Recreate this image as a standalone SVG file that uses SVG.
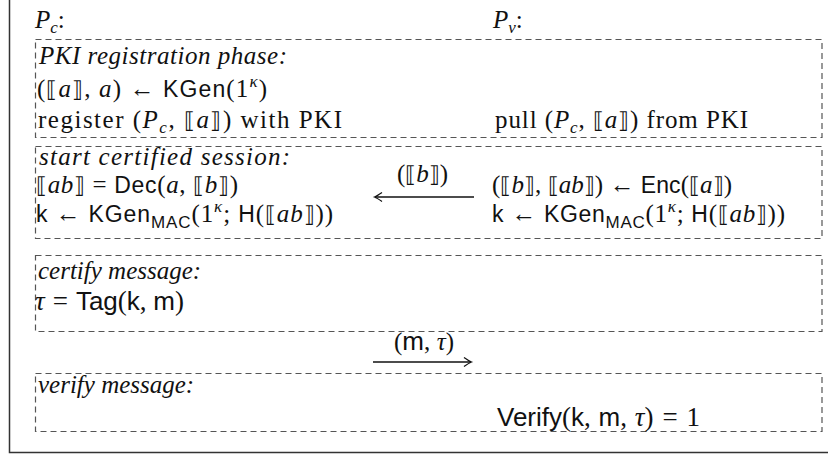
<svg xmlns="http://www.w3.org/2000/svg" width="828" height="454" viewBox="0 0 828 454">
<style>
text { font-family: "Liberation Serif", serif; font-size: 25px; fill: #111; }
.it { font-style: italic; }
.sf { font-family: "Liberation Sans", sans-serif; font-size: 23px; }
.sfl { font-family: "Liberation Sans", sans-serif; font-size: 26px; }
.big { font-size: 27px; }
.br { font-family: "DejaVu Serif", serif; font-size: 22px; }
.sub { font-size: 17px; }
.box { fill: none; stroke: #555; stroke-width: 1.2; stroke-dasharray: 6 4; }
.frame { fill: none; stroke: #333; stroke-width: 1.5; }
.conn { stroke: #111; stroke-width: 1.5; fill: none; }
</style>
<defs>
<marker id="ah" markerWidth="12" markerHeight="12" refX="0" refY="0" viewBox="-8 -6 10 12" orient="auto" markerUnits="userSpaceOnUse">
<path d="M -7 -4.5 Q -2 -1 0.5 0 Q -2 1 -7 4.5" fill="none" stroke="#111" stroke-width="1.3"/>
</marker>
</defs>
<path class="frame" d="M 9.5 0 V 452.5 H 828"/>
<g id="headers">
<text x="35" y="28"><tspan class="it">P</tspan><tspan class="it sub" dy="5">c</tspan><tspan dy="-5">:</tspan></text>
<text x="493" y="28"><tspan class="it">P</tspan><tspan class="it sub" dy="5">v</tspan><tspan dy="-5">:</tspan></text>
</g>
<g id="pki-registration">
<rect class="box" x="35.5" y="39.5" width="786.5" height="98"/>
<text class="it" x="39" y="64" textLength="248" lengthAdjust="spacing">PKI registration phase:</text>
<text x="37" y="97" textLength="230" lengthAdjust="spacing">(<tspan class="br">⟦</tspan><tspan class="it">a</tspan><tspan class="br">⟧</tspan>, <tspan class="it">a</tspan>) ← <tspan class="sf">KGen</tspan>(1<tspan class="it sub" dy="-10">κ</tspan><tspan dy="10">)</tspan></text>
<text x="38" y="128" textLength="304" lengthAdjust="spacing">register (<tspan class="it">P</tspan><tspan class="it sub" dy="5">c</tspan><tspan dy="-5">, </tspan><tspan class="br">⟦</tspan><tspan class="it">a</tspan><tspan class="br">⟧</tspan>) with PKI</text>
<text x="495" y="128" textLength="253" lengthAdjust="spacing">pull (<tspan class="it">P</tspan><tspan class="it sub" dy="5">c</tspan><tspan dy="-5">, </tspan><tspan class="br">⟦</tspan><tspan class="it">a</tspan><tspan class="br">⟧</tspan>) from PKI</text>
</g>
<g id="start-session">
<rect class="box" x="35.5" y="146.5" width="786.5" height="92"/>
<text class="it" x="39" y="165" textLength="251" lengthAdjust="spacing">start certified session:</text>
<text x="36" y="193" textLength="202" lengthAdjust="spacing"><tspan class="br">⟦</tspan><tspan class="it">ab</tspan><tspan class="br">⟧</tspan> = <tspan class="sf">Dec</tspan>(<tspan class="it">a</tspan>, <tspan class="br">⟦</tspan><tspan class="it">b</tspan><tspan class="br">⟧</tspan>)</text>
<text x="36" y="222" textLength="297" lengthAdjust="spacing"><tspan class="sf">k</tspan> ← <tspan class="sf">KGen</tspan><tspan class="sf sub" dy="6">MAC</tspan><tspan dy="-6">(1</tspan><tspan class="it sub" dy="-10">κ</tspan><tspan dy="10">; </tspan><tspan class="sf">H</tspan>(<tspan class="br">⟦</tspan><tspan class="it">ab</tspan><tspan class="br">⟧</tspan>))</text>
<text x="492" y="193" textLength="240" lengthAdjust="spacing">(<tspan class="br">⟦</tspan><tspan class="it">b</tspan><tspan class="br">⟧</tspan>, <tspan class="br">⟦</tspan><tspan class="it">ab</tspan><tspan class="br">⟧</tspan>) ← <tspan class="sf">Enc</tspan>(<tspan class="br">⟦</tspan><tspan class="it">a</tspan><tspan class="br">⟧</tspan>)</text>
<text x="492" y="222" textLength="293" lengthAdjust="spacing"><tspan class="sf">k</tspan> ← <tspan class="sf">KGen</tspan><tspan class="sf sub" dy="6">MAC</tspan><tspan dy="-6">(1</tspan><tspan class="it sub" dy="-10">κ</tspan><tspan dy="10">; </tspan><tspan class="sf">H</tspan>(<tspan class="br">⟦</tspan><tspan class="it">ab</tspan><tspan class="br">⟧</tspan>))</text>
</g>
<g id="certify-message">
<rect class="box" x="35.5" y="255.5" width="786.5" height="76"/>
<text class="it" x="38" y="279">certify message:</text>
<text class="big" x="35" y="310"><tspan class="it">τ</tspan><tspan dx="8">=</tspan><tspan class="sfl" dx="8">Tag</tspan>(<tspan class="sfl">k</tspan>, <tspan class="sfl">m</tspan>)</text>
</g>
<g id="verify-message">
<rect class="box" x="35.5" y="373.5" width="786.5" height="58"/>
<text class="it" x="38" y="393">verify message:</text>
<text class="big" x="497" y="426"><tspan class="sfl">Verify</tspan>(<tspan class="sfl">k</tspan>, <tspan class="sfl" dx="1">m</tspan>, <tspan class="it" dx="1">τ</tspan>)<tspan dx="9">=</tspan><tspan dx="9">1</tspan></text>
</g>
<g id="connectors">
<line class="conn" x1="474" y1="197" x2="375" y2="197" marker-end="url(#ah)"/>
<text x="397" y="182" textLength="51" lengthAdjust="spacing">(<tspan class="br">⟦</tspan><tspan class="it">b</tspan><tspan class="br">⟧</tspan>)</text>
<line class="conn" x1="373" y1="362" x2="471" y2="362" marker-end="url(#ah)"/>
<text x="394" y="350" textLength="60" lengthAdjust="spacing">(<tspan class="sfl">m</tspan>, <tspan class="it">τ</tspan>)</text>
</g>
</svg>
